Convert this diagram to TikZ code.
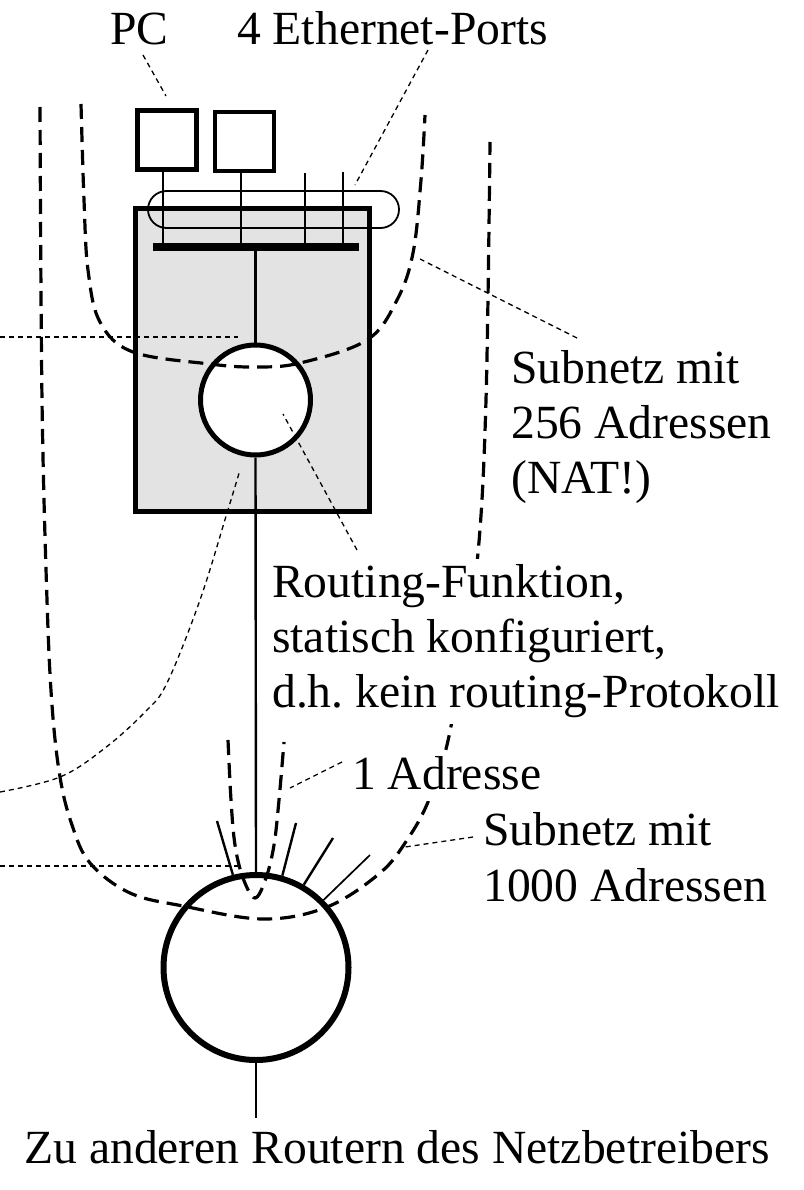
\documentclass[tikz,border=0pt]{standalone}
\usepackage{fontspec}
\setmainfont{Liberation Serif}
\usetikzlibrary{shapes.misc}
\begin{document}
\begin{tikzpicture}[x=1pt,y=-1pt,
  lbl/.style={font=\fontsize{47.6}{55}\selectfont, anchor=base west, inner sep=0pt, text height=38pt, text depth=17pt},
  wlbl/.style={lbl, fill=white},
  pcbox/.style={draw, line width=4.5pt, minimum size=59pt, inner sep=0pt, fill=white},
  wire/.style={line width=2.4pt},
  thinwire/.style={line width=1.7pt},
  subnet/.style={line width=3.2pt, dash pattern=on 15pt off 8pt},
  leader/.style={line width=1.3pt, dash pattern=on 5pt off 4pt},
]
\useasboundingbox (0,0) rectangle (803,1190);

% router box
\node[draw, line width=5pt, fill=black!11, minimum width=234pt, minimum height=302pt, inner sep=0pt] (router) at (252,360) {};

% PCs
\node[pcbox] (pc1) at (167,140) {};
\node[pcbox] (pc2) at (244.5,141.5) {};

% ports outline
\node[draw, rounded rectangle, line width=1.8pt, minimum width=251pt, minimum height=37pt, inner sep=0pt] (ports) at (273.5,209.5) {};

% switch bar
\node[fill=black, minimum width=206pt, minimum height=8pt, inner sep=0pt] (bar) at (256,247) {};

% port wires
\coordinate (p3) at (305,173);
\coordinate (p4) at (343,172);
\draw[wire] ([xshift=-4pt]pc1.south) -- ([xshift=-4pt]pc1.south |- bar.center);
\draw[wire] ([xshift=-3.5pt]pc2.south) -- ([xshift=-3.5pt]pc2.south |- bar.center);
\draw[wire] (p3) -- (p3 |- bar.center);
\draw[wire] (p4) -- (p4 |- bar.center);

% routers
\node[draw, circle, line width=5pt, fill=white, minimum size=110pt, inner sep=0pt] (rc) at (255.5,400) {};
\node[draw, circle, line width=6pt, fill=white, minimum size=185pt, inner sep=0pt] (bc) at (256,967.5) {};

\draw[wire] (rc.north |- bar.center) -- (rc.north);
\draw[wire] (rc.south) -- (bc.north);
\coordinate (bottom) at (256,1118);
\draw[wire] (bc.south) -- (bottom);

% other links on big router
\coordinate (l1) at (217,821);
\coordinate (l2) at (296,823);
\coordinate (l3) at (333,838);
\coordinate (l4) at (370,855);
\draw[wire] (bc.104) -- (l1);
\draw[wire] (bc.74) -- (l2);
\draw[wire] (bc.60) -- (l3);
\draw[thinwire] (bc.45) -- (l4);

% subnets
\draw[subnet] plot[smooth, tension=0.6] coordinates {(81,104) (84,200) (88,270) (100,322) (133,352) (210,364) (255,367) (300,363) (367,340) (397,300) (413,253) (421,180) (425,115)};
\draw[subnet] plot[smooth, tension=0.6] coordinates {(40,107) (42,400) (47,600) (52,705) (60,777) (72,825) (90,863) (130,893) (183,906) (263,919) (327,907) (380,873) (407,840) (428,802) (447,745) (462,660) (478,553) (486,400) (490,142)};
\draw[subnet] plot[smooth, tension=0.6] coordinates {(228,740) (231,800) (235,845) (243,878) (255,898) (266,878) (274,845) (279,800) (284,742)};

% leaders
\coordinate (pcA) at (143,55);   \coordinate (pcB) at (166,96);
\coordinate (ethA) at (428,50);  \coordinate (ethB) at (355,185);
\coordinate (s256A) at (577,338); \coordinate (s256B) at (420,259);
\coordinate (rfA) at (357,550);  \coordinate (rfB) at (283,414);
\coordinate (adrA) at (342,762); \coordinate (adrB) at (290,788);
\coordinate (s1000A) at (473,837); \coordinate (s1000B) at (405,847);
\coordinate (la1) at (0,337);    \coordinate (la2) at (238,337);
\coordinate (lc1) at (0,866);    \coordinate (lc2) at (242,866);
\draw[leader] (pcA) -- (pcB);
\draw[leader] (ethA) -- (ethB);
\draw[leader] (s256A) -- (s256B);
\draw[leader] (rfA) -- (rfB);
\draw[leader] (adrA) -- (adrB);
\draw[leader] (s1000A) -- (s1000B);
\draw[leader] (la1) -- (la2);
\draw[leader] (lc1) -- (lc2);
\draw[leader] plot[smooth, tension=0.6] coordinates {(0,792) (60,777) (105,748) (145,712) (167,683) (200,600) (227,513) (240,470)};

% labels
\node[lbl] (tpc) at (110,45) {PC};
\node[lbl] (teth) at (237,45) {4 Ethernet-Ports};
\node[lbl] (ts1) at (511,383) {Subnetz mit};
\node[lbl] (ts2) at (511,438) {256 Adressen};
\node[lbl] (ts3) at (511,493) {(NAT!)};
\node[wlbl] (tr1) at (272,597) {Routing-Funktion,};
\node[wlbl] (tr2) at (272,652) {statisch konfiguriert,};
\node[wlbl] (tr3) at (272,707) {d.h.\ kein routing-Protokoll};
\node[wlbl, text height=36pt, text depth=12pt] (tadr) at (352,789) {1 Adresse};
\node[lbl] (tk1) at (483,845) {Subnetz mit};
\node[lbl] (tk2) at (483,901) {1000 Adressen};
\node[lbl, anchor=base] (tzu) at (397,1163) {Zu anderen Routern des Netzbetreibers};
\end{tikzpicture}
\end{document}
